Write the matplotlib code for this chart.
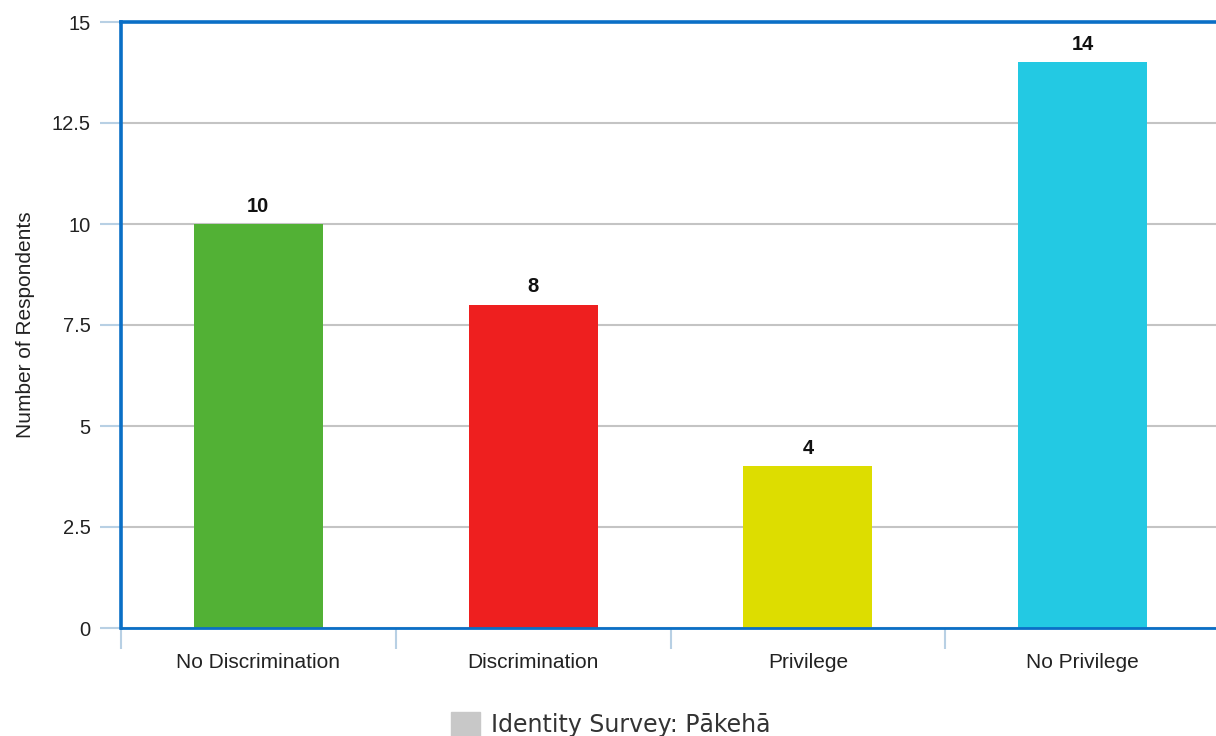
import matplotlib
matplotlib.use("Agg")
import matplotlib.pyplot as plt
from matplotlib.patches import Rectangle

categories = ["No Discrimination", "Discrimination", "Privilege", "No Privilege"]
values = [10, 8, 4, 14]
colors = ["#52b135", "#ee1f1f", "#dddd00", "#23c9e3"]
yticks = [0, 2.5, 5, 7.5, 10, 12.5, 15]
ytick_labels = ["0", "2.5", "5", "7.5", "10", "12.5", "15"]
legend_label = "Identity Survey: Pākehā"

W, H = 1216, 736
fig = plt.figure(figsize=(W / 100, H / 100), dpi=100)
left, right, top, bottom = 121, 1220, 22, 628
ax = fig.add_axes([left / W, 1 - bottom / H, (right - left) / W, (bottom - top) / H])

x = list(range(len(categories)))
ax.bar(x, values, width=0.47, color=colors, zorder=3)
ax.set_xlim(-0.5, len(categories) - 0.5)
ax.set_ylim(0, 15)

for xi, v in zip(x, values):
    ax.annotate(str(v), (xi, v), xytext=(0, 6), textcoords="offset points",
                ha="center", va="bottom", fontsize=14.5, fontweight="bold",
                family="Liberation Sans", color="#111111")

ax.set_yticks(yticks)
ax.set_yticklabels(ytick_labels, family="Liberation Sans", fontsize=14.5, color="#222222")
ax.yaxis.grid(True, color="#c4c4c4", linewidth=1.5, zorder=0)
ax.tick_params(axis="y", length=15, width=1.5, color="#b8d0e4", pad=7)

ax.set_xticks(x)
ax.set_xticklabels(categories, family="Liberation Sans", fontsize=15, color="#222222")
ax.tick_params(axis="x", length=0, pad=18)
ax.set_xticks([i - 0.5 for i in range(len(categories) + 1)], minor=True)
ax.tick_params(axis="x", which="minor", length=15, width=1.5, color="#b8d0e4")

for s in ["left", "top"]:
    ax.spines[s].set_color("#0a6fc6")
    ax.spines[s].set_linewidth(2.6)
ax.spines["bottom"].set_color("#0a6fc6")
ax.spines["bottom"].set_linewidth(2.0)
ax.spines["bottom"].set_zorder(4)
ax.spines["right"].set_visible(False)

ax.set_ylabel("Number of Respondents", family="Liberation Sans", fontsize=15,
              color="#222222", labelpad=12)

leg_handle = Rectangle((0, 0), 1, 1, color="#c8c8c8")
fig.legend([leg_handle], [legend_label], loc="lower center",
           bbox_to_anchor=(611 / W, -0.03), frameon=False,
           prop={"family": "DejaVu Sans", "size": 17},
           handlelength=1.2, handleheight=1.2, handletextpad=0.5,
           labelcolor="#333333")

fig.savefig("out.png", dpi=100)
